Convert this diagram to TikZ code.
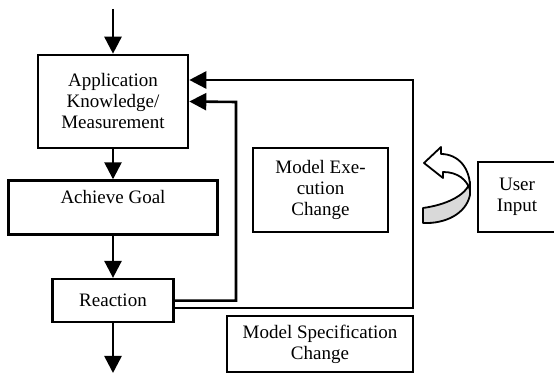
\documentclass[tikz,border=0pt]{standalone}
\usepackage{fontspec}
\setmainfont{Liberation Serif}
\usetikzlibrary{positioning,arrows.meta}

\begin{document}
\begin{tikzpicture}[x=0.5pt, y=-0.5pt,
  every node/.style={font=\fontsize{9.5}{10.5}\selectfont},
  box/.style={draw, line width=1.3pt, align=center, inner sep=2pt},
  flow/.style={line width=1.3pt, -{Triangle[length=8.5pt,width=8.5pt]}},
  ribbon/.style={draw, line width=0.9pt, line join=round}
]
\useasboundingbox (0,0) rectangle (554,373);
\clip (0,0) rectangle (554,373);

% left column
\node[box, minimum width=75pt, minimum height=46.5pt] (know) at (113,101.5)
  {Application\\Knowledge/\\Measurement};
\node[box, minimum width=104.5pt, minimum height=27pt, below=15pt of know] (goal)
  {Achieve Goal\\\mbox{}};
\node[box, minimum width=60.5pt, minimum height=21.5pt, below=21pt of goal] (react)
  {Reaction};

% right side
\node[box, minimum width=67.5pt, minimum height=42pt] (exec) at (320.5,190)
  {Model Exe-\\cution\\Change};
\node[box, minimum width=93pt, minimum height=28pt] (spec) at (320,344)
  {Model Specification\\Change};
\node[box, minimum width=39pt, minimum height=35pt] (user) at (517,197)
  {User\\Input};

\coordinate (in) at (113,9);
\coordinate (out) at (113,373);
\coordinate (lt) at (236,102);
\coordinate (rt) at (413,80);

\draw[flow] (in) -- (know.north);
\draw[flow] (know) -- (goal);
\draw[flow] (goal) -- (react);
\draw[flow] (react.south) -- (react.south |- out);
\draw[flow] (react.east) -| (lt) -- (know.east);
\draw[flow] ([yshift=-3.75pt]react.east) -| (rt) -- (know.east |- rt);

% curved arrow
\draw[ribbon, fill=black!15] (423,208) .. controls (445,205) and (466,196) .. (470,182)
  -- (470,195) .. controls (466,214) and (445,224) .. (423,223) -- cycle;
\draw[ribbon, fill=white] (441,154) .. controls (458,154) and (471,168) .. (470,190)
  .. controls (467,180) and (458,172) .. (443,172) -- (443,178) -- (424,163)
  -- (441,147) -- cycle;
\end{tikzpicture}
\end{document}
